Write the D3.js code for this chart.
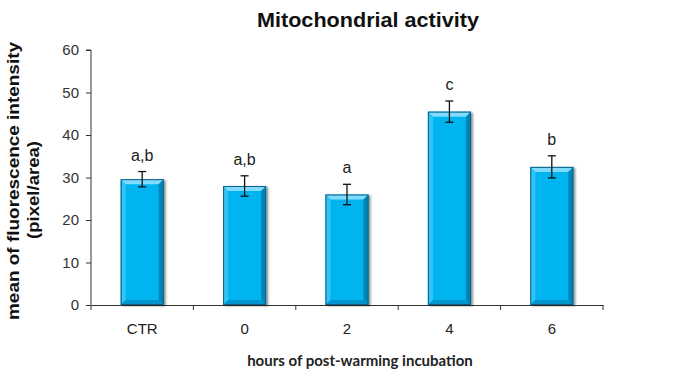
<!DOCTYPE html>
<html>
<head>
<meta charset="utf-8">
<script src="https://cdn.jsdelivr.net/npm/d3@7"></script>
<style>
  body { margin: 0; background: #fff; }
  svg { display: block; }
</style>
</head>
<body>
<svg id="chart" width="700" height="382"></svg>
<script>
// ----------------------
// data
// ----------------------
const categories = ["CTR", "0", "2", "4", "6"];
const means = [29.6, 28.0, 26.0, 45.5, 32.5];
const errors = [1.8, 2.4, 2.4, 2.5, 2.6];
const letters = ["a,b", "a,b", "a", "c", "b"];
const yTicks = [0, 10, 20, 30, 40, 50, 60];

const rows = categories.map((c, i) => ({ cat: c, mean: means[i], err: errors[i], letter: letters[i] }));

// ----------------------
// layout
// ----------------------
const svg = d3.select("#chart");
const plot = { left: 91, right: 603, top: 50, bottom: 305 };

const x = d3.scaleBand()
    .domain(categories)
    .range([plot.left, plot.right])
    .paddingInner(0.58)
    .paddingOuter(0.29);

const y = d3.scaleLinear()
    .domain([0, 60])
    .range([plot.bottom, plot.top]);

const defs = svg.append("defs");
const shadow = defs.append("filter").attr("id", "shadow")
    .attr("x", "-20%").attr("y", "-10%").attr("width", "150%").attr("height", "130%");
shadow.append("feDropShadow")
    .attr("dx", 2).attr("dy", 1).attr("stdDeviation", 1.2)
    .attr("flood-color", "#000").attr("flood-opacity", 0.45);

// title
svg.append("text")
    .attr("x", 368)
    .attr("y", 27)
    .attr("text-anchor", "middle")
    .attr("textLength", 222)
    .attr("lengthAdjust", "spacingAndGlyphs")
    .style("font-family", "Liberation Sans, Arial, sans-serif")
    .style("font-weight", "bold")
    .style("font-size", "21px")
    .attr("fill", "#111")
    .text("Mitochondrial activity");

// y axis
const yAxisG = svg.append("g")
    .attr("transform", `translate(${plot.left},0)`)
    .call(d3.axisLeft(y).tickValues(yTicks).tickSize(5).tickPadding(7));
yAxisG.select(".domain").attr("stroke", "#333").attr("d", `M-5,${plot.top}H0V${plot.bottom}`);
yAxisG.selectAll(".tick line").attr("stroke", "#333");
yAxisG.selectAll(".tick text")
    .style("font-family", "Liberation Sans, Arial, sans-serif")
    .style("font-size", "15px")
    .attr("fill", "#333");

// x axis
const xAxisG = svg.append("g")
    .attr("transform", `translate(0,${plot.bottom})`)
    .call(d3.axisBottom(x).tickSize(0).tickPadding(18));
xAxisG.select(".domain").attr("stroke", "#333");
xAxisG.selectAll(".tick text")
    .style("font-family", "Liberation Sans, Arial, sans-serif")
    .style("font-size", "15px")
    .attr("fill", "#222");

// tick marks at category boundaries
const bounds = d3.range(categories.length + 1).map(i => plot.left + i * x.step());
xAxisG.selectAll("line.bound")
    .data(bounds)
    .enter().append("line")
    .attr("class", "bound")
    .attr("x1", d => d).attr("x2", d => d)
    .attr("y1", 0).attr("y2", 5)
    .attr("stroke", "#333");

// axis titles
svg.append("text")
    .attr("transform", `translate(19,181) rotate(-90)`)
    .attr("text-anchor", "middle")
    .attr("textLength", 278)
    .attr("lengthAdjust", "spacingAndGlyphs")
    .style("font-family", "Liberation Sans, Arial, sans-serif")
    .style("font-weight", "bold")
    .style("font-size", "17px")
    .attr("fill", "#111")
    .text("mean of fluorescence intensity");
svg.append("text")
    .attr("transform", `translate(39,190) rotate(-90)`)
    .attr("text-anchor", "middle")
    .attr("textLength", 98)
    .attr("lengthAdjust", "spacingAndGlyphs")
    .style("font-family", "Liberation Sans, Arial, sans-serif")
    .style("font-weight", "bold")
    .style("font-size", "17px")
    .attr("fill", "#111")
    .text("(pixel/area)");

svg.append("text")
    .attr("x", 360)
    .attr("y", 366)
    .attr("text-anchor", "middle")
    .style("font-family", "Lato, Open Sans, sans-serif")
    .style("font-weight", "bold")
    .style("font-size", "15px")
    .attr("fill", "#222")
    .text("hours of post-warming incubation");

// ----------------------
// bars with bevel
// ----------------------
const bv = 5;
const barG = svg.append("g");
const bars = barG.selectAll("g.bar")
    .data(rows)
    .enter().append("g")
    .attr("class", "bar");

bars.append("rect")
    .attr("x", d => x(d.cat))
    .attr("y", d => y(d.mean))
    .attr("width", x.bandwidth())
    .attr("height", d => plot.bottom - y(d.mean))
    .attr("fill", "#00b4f0")
    .attr("filter", "url(#shadow)");

function quad(pts) { return "M" + pts.map(p => p.join(",")).join("L") + "Z"; }

// top bevel (light)
bars.append("path")
    .attr("fill", "#7fdcff")
    .attr("d", d => {
        const x0 = x(d.cat), x1 = x0 + x.bandwidth(), t = y(d.mean);
        return quad([[x0, t], [x1, t], [x1 - bv, t + bv], [x0 + bv, t + bv]]);
    });
// left bevel
bars.append("path")
    .attr("fill", "#33c4f5")
    .attr("d", d => {
        const x0 = x(d.cat), t = y(d.mean), b = plot.bottom;
        return quad([[x0, t], [x0 + bv, t + bv], [x0 + bv, b - bv], [x0, b]]);
    });
// right bevel (dark)
bars.append("path")
    .attr("fill", "#0085b8")
    .attr("d", d => {
        const x1 = x(d.cat) + x.bandwidth(), t = y(d.mean), b = plot.bottom;
        return quad([[x1, t], [x1, b], [x1 - bv, b - bv], [x1 - bv, t + bv]]);
    });
// bottom bevel
bars.append("path")
    .attr("fill", "#0095cc")
    .attr("d", d => {
        const x0 = x(d.cat), x1 = x0 + x.bandwidth(), b = plot.bottom;
        return quad([[x0, b], [x0 + bv, b - bv], [x1 - bv, b - bv], [x1, b]]);
    });
bars.append("rect")
    .attr("x", d => x(d.cat) + 0.5)
    .attr("y", d => y(d.mean) + 0.5)
    .attr("width", x.bandwidth() - 1)
    .attr("height", d => plot.bottom - y(d.mean) - 1)
    .attr("fill", "none")
    .attr("stroke", "#0a5f82")
    .attr("stroke-width", 1);

// error bars
const cap = 4;
const eb = svg.append("g").attr("stroke", "#111").attr("stroke-width", 1.3);
rows.forEach(d => {
    const cx = x(d.cat) + x.bandwidth() / 2;
    const hi = y(d.mean + d.err), lo = y(d.mean - d.err);
    eb.append("line").attr("x1", cx).attr("x2", cx).attr("y1", hi).attr("y2", lo);
    eb.append("line").attr("x1", cx - cap).attr("x2", cx + cap).attr("y1", hi).attr("y2", hi);
    eb.append("line").attr("x1", cx - cap).attr("x2", cx + cap).attr("y1", lo).attr("y2", lo);
});

// significance letters
svg.append("g").selectAll("text")
    .data(rows)
    .enter().append("text")
    .attr("x", d => x(d.cat) + x.bandwidth() / 2)
    .attr("y", d => y(d.mean + d.err) - 11)
    .attr("text-anchor", "middle")
    .style("font-family", "Liberation Sans, Arial, sans-serif")
    .style("font-size", "16px")
    .attr("fill", "#222")
    .text(d => d.letter);
</script>
</body>
</html>
